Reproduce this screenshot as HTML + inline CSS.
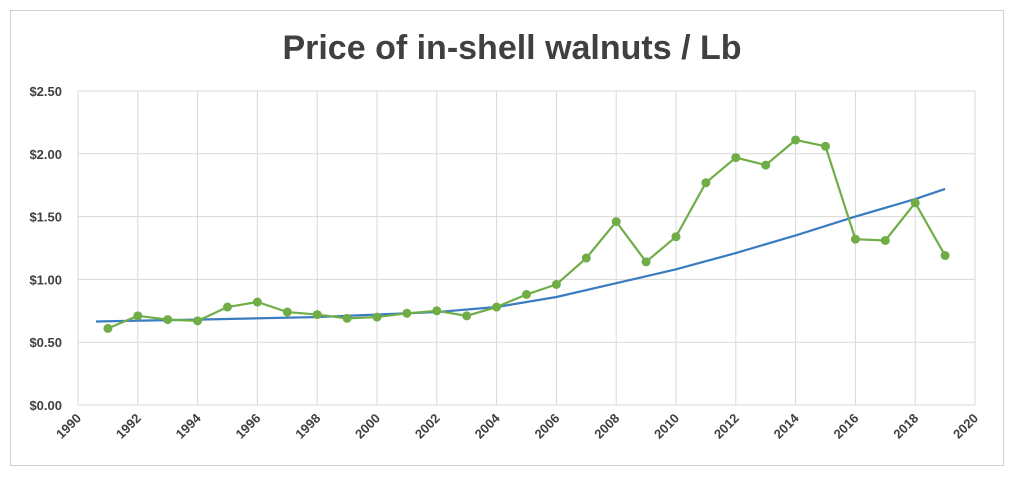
<!DOCTYPE html>
<html><head><meta charset="utf-8"><style>
body{margin:0;background:#fff;width:1024px;height:478px;overflow:hidden}
text{font-family:"Liberation Sans",sans-serif}
</style></head><body>
<svg id="c" width="1024" height="478">
<rect x="10.5" y="10.5" width="993" height="455" fill="#fff" stroke="#d0d0d0"/>
<text x="512" y="59" text-anchor="middle" font-size="34" font-weight="bold" fill="#404040">Price of in-shell walnuts / Lb</text>
<g id="grid"></g><g id="marks"></g>
</svg>
<script>
const years=[1991,1992,1993,1994,1995,1996,1997,1998,1999,2000,2001,2002,2003,2004,2005,2006,2007,2008,2009,2010,2011,2012,2013,2014,2015,2016,2017,2018,2019];
const prices=[0.61,0.71,0.68,0.67,0.78,0.82,0.74,0.72,0.69,0.70,0.73,0.75,0.71,0.78,0.88,0.96,1.17,1.46,1.14,1.34,1.77,1.97,1.91,2.11,2.06,1.32,1.31,1.61,1.19];
const trendYears=[1990.6,1994,1998,2002,2004,2006,2008,2010,2012,2014,2016,2018,2019];
const trendValues=[0.665,0.68,0.70,0.74,0.78,0.86,0.97,1.08,1.21,1.35,1.50,1.64,1.72];
const yTicks=[0,0.5,1,1.5,2,2.5];
const yTickLabels=["$0.00","$0.50","$1.00","$1.50","$2.00","$2.50"];
const xTicks=[1990,1992,1994,1996,1998,2000,2002,2004,2006,2008,2010,2012,2014,2016,2018,2020];
const X0=78,X1=975,Y0=405,Y1=91;
const sx=v=>X0+(v-1990)/30*(X1-X0);
const sy=v=>Y0-v/2.5*(Y0-Y1);
const NS="http://www.w3.org/2000/svg";
const g=document.getElementById('grid'),m=document.getElementById('marks');
function mk(p,tag,a){const e=document.createElementNS(NS,tag);for(const k in a)e.setAttribute(k,a[k]);p.appendChild(e);return e;}
yTicks.forEach((t,i)=>{
 const l=mk(g,'line',{x1:X0,x2:X1,y1:sy(t),y2:sy(t),stroke:'#d9d9d9'});
 
 
 const tx=mk(g,'text',{x:X0-16,y:sy(t)+5,'text-anchor':'end','font-size':13,'font-weight':'bold',fill:'#404040'});
 tx.textContent=yTickLabels[i];
 
 
});
xTicks.forEach(t=>{
 const l=mk(g,'line',{x1:sx(t),x2:sx(t),y1:Y1,y2:Y0,stroke:'#d9d9d9'});
 
 
 const tx=mk(g,'text',{x:sx(t)+4,y:Y0+14,'text-anchor':'end','font-size':13,'font-weight':'bold',fill:'#404040',transform:`rotate(-45 ${sx(t)+4} ${Y0+14})`});
 tx.textContent=t;
 
 
});
const tr=mk(m,'polyline',{points:trendYears.map((y,i)=>sx(y)+','+sy(trendValues[i])).join(' '),fill:'none',stroke:'#3a7cc1','stroke-width':2.2});


const pl=mk(m,'polyline',{points:years.map((y,i)=>sx(y)+','+sy(prices[i])).join(' '),fill:'none',stroke:'#70ad47','stroke-width':2.2});


years.forEach((y,i)=>{
 const c=mk(m,'circle',{cx:sx(y),cy:sy(prices[i]),r:4.5,fill:'#70ad47'});
 
 
});
</script>
</body></html>
